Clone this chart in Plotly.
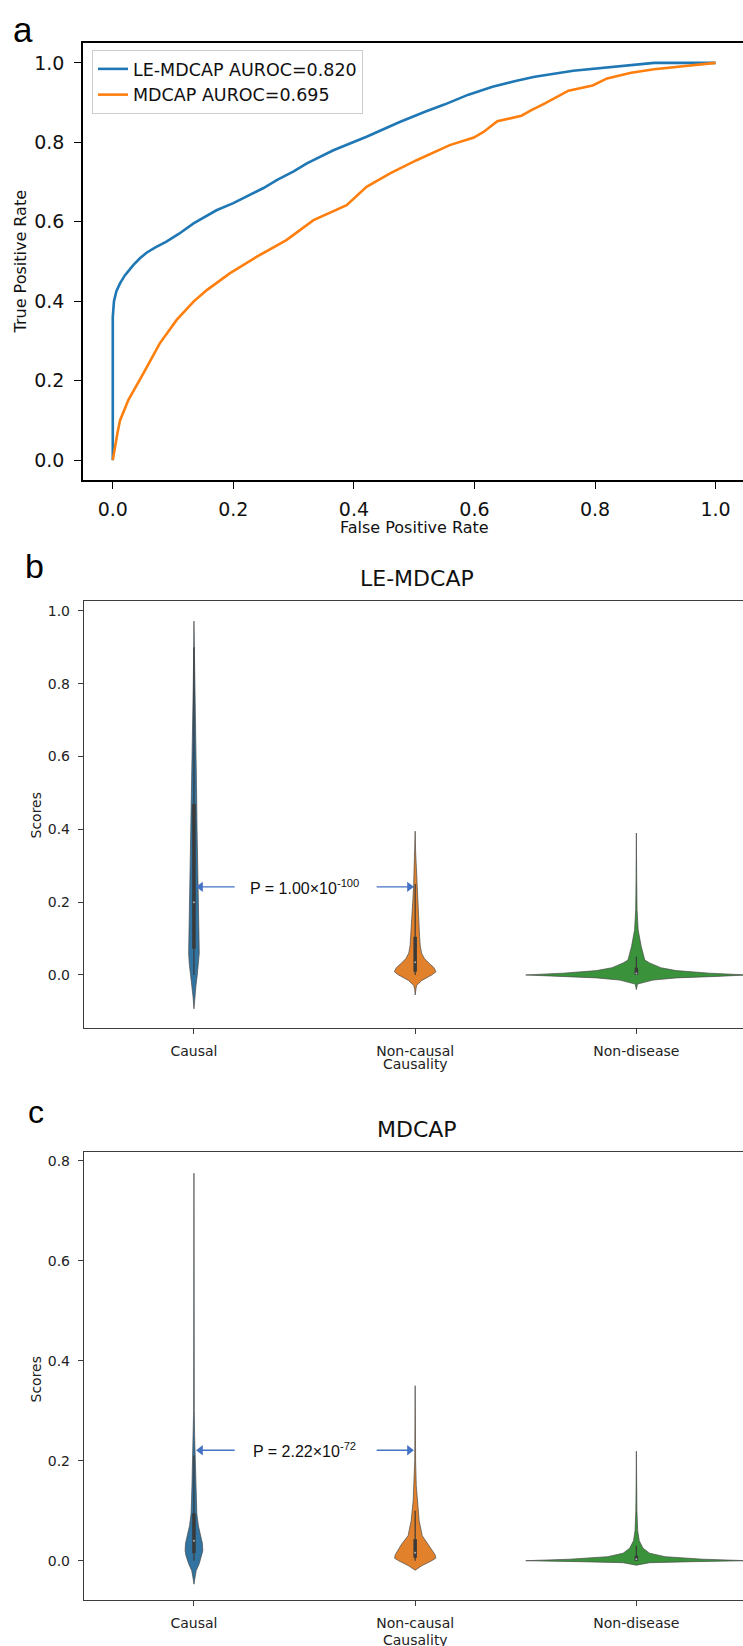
import plotly.graph_objects as go

W, H = 743, 1646

# ---------------- Panel a: ROC curves ----------------
le_fpr = [0.0, 0.0, 0.0, 0.002, 0.006, 0.012, 0.02, 0.034, 0.045, 0.056, 0.07, 0.089, 0.11, 0.134,
          0.172, 0.2, 0.222, 0.25, 0.272, 0.3, 0.322, 0.366, 0.421, 0.476, 0.52, 0.55, 0.59,
          0.63, 0.67, 0.70, 0.764, 0.827, 0.86, 0.898, 1.0]
le_tpr = [0.0, 0.2, 0.36, 0.40, 0.425, 0.445, 0.465, 0.491, 0.508, 0.522, 0.535, 0.550, 0.570, 0.596,
          0.629, 0.647, 0.663, 0.685, 0.705, 0.727, 0.747, 0.78, 0.814, 0.851, 0.878, 0.895, 0.92,
          0.94, 0.955, 0.965, 0.98, 0.99, 0.995, 1.0, 1.0]

md_fpr = [0.0, 0.003, 0.008, 0.012, 0.026, 0.051, 0.078, 0.106, 0.134, 0.156, 0.194, 0.239,
          0.288, 0.333, 0.388, 0.421, 0.46, 0.504, 0.559, 0.599, 0.615, 0.638, 0.678, 0.693,
          0.717, 0.756, 0.796, 0.82, 0.86, 0.898, 0.953, 1.0]
md_tpr = [0.0, 0.03, 0.07, 0.10, 0.152, 0.219, 0.294, 0.353, 0.399, 0.428, 0.47, 0.512,
          0.554, 0.604, 0.642, 0.688, 0.722, 0.755, 0.793, 0.812, 0.826, 0.853, 0.867, 0.88,
          0.898, 0.93, 0.943, 0.961, 0.975, 0.984, 0.993, 1.0]

roc_names = ["LE-MDCAP AUROC=0.820", "MDCAP AUROC=0.695"]
roc_ticks = [0.0, 0.2, 0.4, 0.6, 0.8, 1.0]

# ---------------- Panels b and c: violin profiles ----------------
categories = ["Causal", "Non-causal", "Non-disease"]
violin_colors = ["#3274A1", "#E1812C", "#3A923A"]

# Panel b (LE-MDCAP): score levels and violin half-widths (category units)
b_causal_y = [-0.093, -0.06, -0.03, 0.0, 0.03, 0.06, 0.1, 0.2, 0.3, 0.4, 0.5, 0.6, 0.7, 0.8, 0.9, 0.972]
b_causal_w = [0.0, 0.004, 0.009, 0.015, 0.021, 0.024, 0.023, 0.019, 0.016, 0.014, 0.012, 0.009, 0.006, 0.003, 0.001, 0.0]
b_noncausal_y = [-0.055, -0.04, -0.029, -0.015, 0.0, 0.009, 0.02, 0.032, 0.045, 0.06, 0.08, 0.105, 0.15, 0.2, 0.245, 0.29, 0.34, 0.395]
b_noncausal_w = [0.0, 0.002, 0.006, 0.03, 0.075, 0.094, 0.085, 0.063, 0.042, 0.029, 0.023, 0.02, 0.016, 0.011, 0.007, 0.004, 0.002, 0.0]
b_nondisease_y = [-0.04, -0.025, -0.014, -0.008, -0.004, 0.0, 0.005, 0.012, 0.02, 0.033, 0.041, 0.078, 0.124, 0.18, 0.26, 0.39]
b_nondisease_w = [0.0, 0.005, 0.075, 0.18, 0.36, 0.5, 0.33, 0.18, 0.11, 0.06, 0.038, 0.022, 0.008, 0.003, 0.0015, 0.0]
# box stats: q1, median, q3, whisker low, whisker high
b_box = [(0.072, 0.2, 0.47, 0.0, 0.9), (0.009, 0.035, 0.105, 0.0, 0.25), (0.0, 0.004, 0.02, 0.0, 0.05)]

# Panel c (MDCAP)
c_causal_y = [-0.047, -0.035, -0.02, -0.006, 0.01, 0.02, 0.035, 0.05, 0.07, 0.094, 0.12, 0.15, 0.2, 0.25, 0.3, 0.4, 0.55, 0.775]
c_causal_w = [0.0, 0.004, 0.01, 0.024, 0.036, 0.04, 0.038, 0.03, 0.02, 0.013, 0.011, 0.009, 0.005, 0.003, 0.0015, 0.001, 0.0005, 0.0]
c_noncausal_y = [-0.019, -0.01, 0.0, 0.005, 0.012, 0.02, 0.034, 0.05, 0.08, 0.12, 0.15, 0.2, 0.27, 0.35]
c_noncausal_w = [0.0, 0.03, 0.075, 0.093, 0.09, 0.078, 0.06, 0.032, 0.018, 0.009, 0.005, 0.002, 0.001, 0.0]
c_nondisease_y = [-0.009, -0.004, -0.002, 0.0, 0.003, 0.008, 0.015, 0.025, 0.04, 0.06, 0.1, 0.15, 0.219]
c_nondisease_w = [0.0, 0.06, 0.25, 0.5, 0.3, 0.13, 0.06, 0.03, 0.013, 0.006, 0.0025, 0.0012, 0.0]
c_box = [(0.015, 0.04, 0.095, 0.0, 0.21), (0.006, 0.016, 0.043, 0.0, 0.1), (0.0, 0.003, 0.01, 0.0, 0.03)]

b_ticks = [0.0, 0.2, 0.4, 0.6, 0.8, 1.0]
c_ticks = [0.0, 0.2, 0.4, 0.6, 0.8]

b_pvalue = ("P = 1.00×10<sup>-100</sup>", 0.242)
c_pvalue = ("P = 2.22×10<sup>-72</sup>", 0.221)

# ---------------- figure ----------------
fig = go.Figure()

roc_colors = ["#1f77b4", "#ff7f0e"]
for xs, ys, name, col in [(le_fpr, le_tpr, roc_names[0], roc_colors[0]),
                          (md_fpr, md_tpr, roc_names[1], roc_colors[1])]:
    fig.add_trace(go.Scatter(x=xs, y=ys, mode="lines", name=name,
                             line=dict(color=col, width=2.6), xaxis="x", yaxis="y"))


def add_violins(profiles, boxes, xa, ya):
    for i, (ys, ws) in enumerate(profiles):
        xs = [i + w for w in ws] + [i - w for w in reversed(ws)]
        yy = list(ys) + list(reversed(ys))
        fig.add_trace(go.Scatter(x=xs, y=yy, mode="lines", fill="toself",
                                 fillcolor=violin_colors[i],
                                 line=dict(color="rgba(70,70,70,0.85)", width=0.8),
                                 showlegend=False, xaxis=xa, yaxis=ya, hoverinfo="skip"))
        q1, med, q3, wl, wh = boxes[i]
        fig.add_trace(go.Scatter(x=[i, i], y=[wl, wh], mode="lines",
                                 line=dict(color="#3a3a3a", width=1.2),
                                 showlegend=False, xaxis=xa, yaxis=ya, hoverinfo="skip"))
        fig.add_trace(go.Scatter(x=[i, i], y=[q1, q3], mode="lines",
                                 line=dict(color="#3a3a3a", width=3.5),
                                 showlegend=False, xaxis=xa, yaxis=ya, hoverinfo="skip"))
        fig.add_trace(go.Scatter(x=[i], y=[med], mode="markers",
                                 marker=dict(color="rgba(255,255,255,0.6)", size=2),
                                 showlegend=False, xaxis=xa, yaxis=ya, hoverinfo="skip"))


add_violins([(b_causal_y, b_causal_w), (b_noncausal_y, b_noncausal_w), (b_nondisease_y, b_nondisease_w)],
            b_box, "x2", "y2")
add_violins([(c_causal_y, c_causal_w), (c_noncausal_y, c_noncausal_w), (c_nondisease_y, c_nondisease_w)],
            c_box, "x3", "y3")

# p-value arrows (line + triangular head) pointing at the two compared violins
arrow_col = "#4472C4"
for (_, yv), xa, ya in [(b_pvalue, "x2", "y2"), (c_pvalue, "x3", "y3")]:
    for head, tail, sym in [(0.018, 0.184, "triangle-left"), (0.986, 0.826, "triangle-right")]:
        fig.add_trace(go.Scatter(x=[tail, head], y=[yv, yv], mode="lines",
                                 line=dict(color=arrow_col, width=1.4),
                                 showlegend=False, xaxis=xa, yaxis=ya, hoverinfo="skip"))
        tip = head + (0.012 if head < 0.5 else -0.012)
        fig.add_trace(go.Scatter(x=[tip], y=[yv], mode="markers",
                                 marker=dict(symbol=sym, size=9, color=arrow_col),
                                 showlegend=False, xaxis=xa, yaxis=ya, hoverinfo="skip"))


def px(x):
    return x / W


def py(y):
    return 1 - y / H


F = "DejaVu Sans"
axis_a = dict(showline=True, linecolor="black", linewidth=1.5, ticks="outside", ticklen=7,
              tickwidth=1.3, tickcolor="black", showgrid=False, zeroline=False,
              tickfont=dict(family=F, size=19, color="#111"))
axis_bc = dict(showline=True, linecolor="#3c3c3c", linewidth=1.4, ticks="outside", ticklen=5,
               tickwidth=1.2, tickcolor="#3c3c3c", showgrid=False, zeroline=False,
               tickfont=dict(family=F, size=14, color="#222"))

fig.update_layout(
    width=W, height=H, margin=dict(l=0, r=0, t=0, b=0),
    paper_bgcolor="white", plot_bgcolor="white",
    xaxis=dict(axis_a, domain=[px(83), 1], range=[-0.0494, 1.0455], mirror=True,
               tickvals=roc_ticks, ticktext=[f"{v:.1f}" for v in roc_ticks],
               anchor="y", ticklabelstandoff=4),
    yaxis=dict(axis_a, domain=[py(480), py(43)], range=[-0.05, 1.05],
               tickvals=roc_ticks, ticktext=[f"{v:.1f}" for v in roc_ticks],
               anchor="x", ticklabelstandoff=6),
    xaxis2=dict(axis_bc, domain=[px(84), 1], range=[-0.497, 2.482], mirror=True,
                tickvals=[0, 1, 2], ticktext=categories, anchor="y2", ticklabelstandoff=5),
    yaxis2=dict(axis_bc, domain=[py(1027.7), py(600.7)], range=[-0.1448, 1.028],
                tickvals=b_ticks, ticktext=[f"{v:.1f}" for v in b_ticks], anchor="x2",
                ticklabelstandoff=5),
    xaxis3=dict(axis_bc, domain=[px(84), 1], range=[-0.497, 2.482], mirror=True,
                tickvals=[0, 1, 2], ticktext=categories, anchor="y3", ticklabelstandoff=5),
    yaxis3=dict(axis_bc, domain=[py(1600), py(1152)], range=[-0.0786, 0.8174],
                tickvals=c_ticks, ticktext=[f"{v:.1f}" for v in c_ticks], anchor="x3",
                ticklabelstandoff=5),
    legend=dict(x=px(92), y=py(50), xanchor="left", yanchor="top",
                bgcolor="rgba(255,255,255,0.85)", bordercolor="#cccccc", borderwidth=1,
                font=dict(family=F, size=17.5, color="#111"), tracegroupgap=0),
    showlegend=True,
)

ann = []
# panel letters
for letter, xx, yy, sz in [("a", 23, 29, 35), ("b", 34, 566, 34), ("c", 36, 1112, 32)]:
    ann.append(dict(text=letter, x=px(xx), y=py(yy), xref="paper", yref="paper",
                    showarrow=False, xanchor="center", yanchor="middle",
                    font=dict(family="Liberation Sans", size=sz, color="black")))
# axis titles panel a
ann.append(dict(text="False Positive Rate", x=px(414.7), y=py(527.5), xref="paper", yref="paper",
                xanchor="center", yanchor="middle",
                showarrow=False, font=dict(family=F, size=16, color="#111")))
ann.append(dict(text="True Positive Rate", x=px(20), y=py(261.5), xref="paper", yref="paper",
                xanchor="center", yanchor="middle",
                showarrow=False, textangle=-90, font=dict(family=F, size=16, color="#111")))
# panel b/c titles and axis titles
for title, ty, sy, cy in [("LE-MDCAP", 579, 815, 1064), ("MDCAP", 1129, 1379, 1640)]:
    ann.append(dict(text=title, x=px(417), y=py(ty), xref="paper", yref="paper",
                    xanchor="center", yanchor="middle",
                    showarrow=False, font=dict(family=F, size=22, color="#111")))
    ann.append(dict(text="Scores", x=px(35.5), y=py(sy), xref="paper", yref="paper",
                    xanchor="center", yanchor="middle",
                    showarrow=False, textangle=-90, font=dict(family=F, size=14, color="#222")))
    ann.append(dict(text="Causality", x=px(415.6), y=py(cy), xref="paper", yref="paper",
                    xanchor="center", yanchor="middle",
                    showarrow=False, font=dict(family=F, size=14, color="#222")))

# p-value texts
for (txt, yv), xa, ya in [(b_pvalue, "x2", "y2"), (c_pvalue, "x3", "y3")]:
    ann.append(dict(text=txt, x=0.5, y=yv, xref=xa, yref=ya, showarrow=False,
                    xanchor="center", yanchor="middle",
                    font=dict(family="Liberation Sans", size=16, color="#111")))

fig.update_layout(annotations=ann)
fig.write_html("out.html", config={"displayModeBar": False},
               post_script="document.body.style.margin='0px';")
